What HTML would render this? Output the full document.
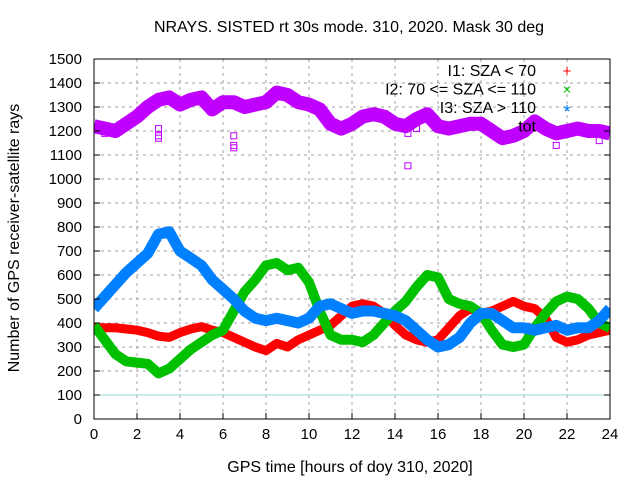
<!DOCTYPE html>
<html><head><meta charset="utf-8"><style>
body{margin:0;background:#fff}
svg text{font-family:"Liberation Sans",sans-serif;font-size:16px;fill:#000}
svg text.tk{font-size:15px}
</style></head><body>
<svg id="c" width="640" height="480" xmlns="http://www.w3.org/2000/svg">
<defs><clipPath id="pc"><rect x="94" y="59" width="516" height="360"/></clipPath></defs>
<text x="349" y="32" text-anchor="middle">NRAYS. SISTED rt 30s mode. 310, 2020. Mask 30 deg</text>
<text x="350" y="472" text-anchor="middle">GPS time [hours of doy 310, 2020]</text>
<text transform="translate(19,238) rotate(-90)" text-anchor="middle">Number of GPS receiver-satellite rays</text>
<g id="grid"></g><g id="series" clip-path="url(#pc)"></g><g id="frame"></g>
</svg>
<script>
const hours=[0,0.5,1,1.5,2,2.5,3,3.5,4,4.5,5,5.5,6,6.5,7,7.5,8,8.5,9,9.5,10,10.5,11,11.5,12,12.5,13,13.5,14,14.5,15,15.5,16,16.5,17,17.5,18,18.5,19,19.5,20,20.5,21,21.5,22,22.5,23,23.5,24];
const totalVals=[1220,1210,1200,1230,1260,1300,1330,1340,1310,1330,1340,1290,1320,1320,1300,1310,1320,1360,1350,1320,1310,1290,1230,1210,1230,1260,1270,1260,1230,1220,1250,1270,1220,1210,1220,1230,1230,1200,1170,1180,1200,1240,1210,1190,1200,1210,1200,1200,1190];
const i1Vals=[380,380,380,375,370,360,345,340,360,375,385,370,360,340,320,300,285,315,300,330,350,370,390,430,470,480,470,440,390,350,330,320,330,380,430,460,440,450,470,490,470,460,420,340,320,330,350,360,370];
const i2Vals=[390,330,270,240,235,230,190,210,250,290,320,350,370,450,530,580,640,650,620,630,570,450,350,330,330,320,350,400,450,490,550,600,590,500,480,470,440,370,310,300,310,380,440,490,510,500,460,400,380];
const i3Vals=[460,510,560,610,650,690,770,780,700,670,640,580,540,500,450,420,410,420,410,400,420,470,480,460,440,450,450,440,430,410,370,330,300,310,340,400,440,440,410,380,380,370,380,390,370,380,380,410,460];
const outlierH=[0.5,1,3,3,3,6.5,6.5,6.5,14.6,14.6,15,21.5,23.5];
const outlierV=[1190,1190,1170,1180,1210,1180,1140,1130,1190,1055,1210,1140,1160];
const yTicks=[0,100,200,300,400,500,600,700,800,900,1000,1100,1200,1300,1400,1500];
const xTicks=[0,2,4,6,8,10,12,14,16,18,20,22,24];
const legendLabels=["I1: SZA < 70","I2: 70 <= SZA <= 110","I3: SZA > 110","tot"];
const X0=94,X1=610,Y0=419,Y1=59;
const sx=h=>X0+h*(X1-X0)/24, sy=v=>Y0-v*(Y0-Y1)/1500;
const NS="http://www.w3.org/2000/svg";
function mk(t,a,p){const e=document.createElementNS(NS,t);for(const k in a)e.setAttribute(k,a[k]);p.appendChild(e);return e;}
const grid=document.getElementById('grid'),ser=document.getElementById('series'),fr=document.getElementById('frame');
yTicks.forEach(v=>{const y=sy(v);
 if(v>0&&v<1500){const g=mk('line',{x1:X0,x2:X1,y1:y,y2:y,stroke:'#a0a0a0','stroke-dasharray':'3,4'},grid);}
 const t=mk('text',{x:82,y:y+5,'text-anchor':'end','class':'tk'},fr);t.textContent=v;
 
 
 mk('line',{x1:X0,x2:X0+6,y1:y,y2:y,stroke:'#000'},fr);mk('line',{x1:X1,x2:X1-6,y1:y,y2:y,stroke:'#000'},fr);});
xTicks.forEach(h=>{const x=sx(h);
 if(h>0&&h<24){const g=mk('line',{x1:x,x2:x,y1:Y0,y2:Y1,stroke:'#a0a0a0','stroke-dasharray':'3,4'},grid);}
 const t=mk('text',{x:x,y:Y0+20,'text-anchor':'middle','class':'tk'},fr);t.textContent=h;
 
 
 mk('line',{x1:x,x2:x,y1:Y0,y2:Y0-6,stroke:'#000'},fr);});
const ref=mk('line',{x1:X0,x2:X1,y1:sy(100),y2:sy(100),stroke:'#9ad8d8'},grid);


function band(vals,col,w,name){
 const d=vals.map((v,i)=>(i?'L':'M')+sx(hours[i])+','+sy(v)).join('');
 const p=mk('path',{d:d,fill:'none',stroke:col,'stroke-width':w,'stroke-linejoin':'round','stroke-linecap':'butt'},ser);
 
 
}
band(totalVals,'#c000ff',14,'series-total');
band(i1Vals,'#ff0000',9,'series-i1');
band(i2Vals,'#00c000',10,'series-i2');
band(i3Vals,'#0080ff',11,'series-i3');
outlierH.forEach((h,i)=>{const r=mk('rect',{x:sx(h)-3,y:sy(outlierV[i])-3,width:6,height:6,fill:'none',stroke:'#c000ff'},ser);
 
 });
mk('rect',{x:X0,y:Y1,width:X1-X0,height:Y0-Y1,fill:'none',stroke:'#000'},fr);
const lc=['#ff0000','#00c000','#0080ff'],lg=['+','×','*'];
legendLabels.forEach((l,i)=>{const y=76+i*18.5;
 const t=mk('text',{x:536,y:y,'text-anchor':'end'},fr);t.textContent=l;
 
 
 if(i<3){const m=mk('text',{x:567,y:y+(i==2?5:0),'text-anchor':'middle',style:'fill:'+lc[i]+';font-size:'+(i==2?'18px':'15px')},fr);m.textContent=lg[i];
 
 }});
</script>
</body></html>
